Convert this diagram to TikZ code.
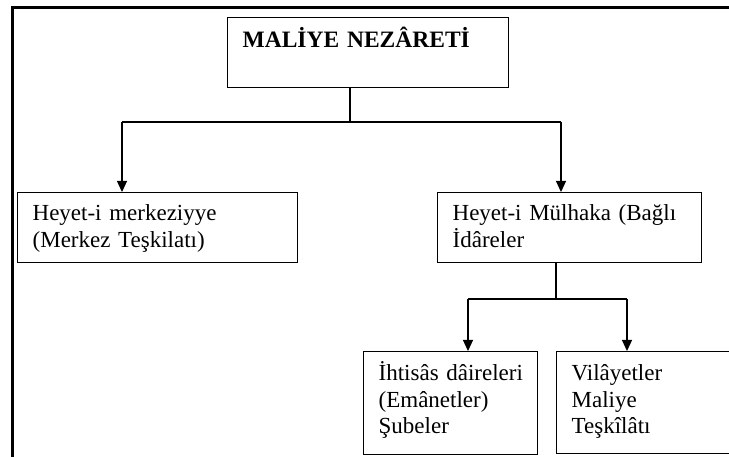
\documentclass[tikz,border=0pt]{standalone}
\usepackage{fontspec}
\setmainfont{Liberation Serif}
\usetikzlibrary{arrows.meta}

\begin{document}
\begin{tikzpicture}[x = 1pt, y = -1pt, line width = 1.1pt,
                      unit/.style = {draw, line width = 1.3pt, anchor = north west, align = left,
                                     inner xsep = 15pt, inner ysep = 0pt,
                                     font = \fontsize{23}{26.5}\selectfont},
                      link/.style = {-{Triangle[length = 11pt, width = 10pt]}}]
    \useasboundingbox (0, 0) rectangle (729, 457);
    \clip (0, 0) rectangle (729, 457);
    \draw [line width = 3pt] (12, 8) rectangle (800, 520);

    \node [unit, text width = 251pt, text height = 30pt, text depth = 40pt,
           font = \bfseries\fontsize{23.5}{26.5}\selectfont] (nezaret) at (227, 17) {MALİYE NEZÂRETİ};
    \node [unit, text width = 250pt, text height = 28pt, text depth = 42pt] (merkez) at (17, 192)
          {Heyet-i~merkeziyye\\(Merkez~Teşkilatı)};
    \node [unit, text width = 234pt, text height = 28pt, text depth = 42pt] (mulhaka) at (437, 192)
          {Heyet-i~Mülhaka~(Bağlı\\İdâreler};
    \node [unit, text width = 144pt, text height = 29pt, text depth = 74pt] (ihtisas) at (363, 351)
          {İhtisâs~dâireleri\\(Emânetler)\\Şubeler};
    \node [unit, text width = 170pt, text height = 29pt, text depth = 73pt] (vilayet) at (556, 351)
          {Vilâyetler\\Maliye\\Teşkîlâtı};

    \coordinate (fork) at (350, 122);
    \coordinate (forkl) at (122, 122);
    \coordinate (forkr) at (561, 122);
    \draw (nezaret.south -| fork) -- (fork);
    \draw (forkl) -- (forkr);
    \draw [link] (forkl) -- (forkl |- merkez.north);
    \draw [link] (forkr) -- (forkr |- mulhaka.north);

    \coordinate (subfork) at (556, 299);
    \coordinate (subforkl) at (468, 299);
    \coordinate (subforkr) at (627, 299);
    \draw (mulhaka.south -| subfork) -- (subfork);
    \draw (subforkl) -- (subforkr);
    \draw [link] (subforkl) -- (subforkl |- ihtisas.north);
    \draw [link] (subforkr) -- (subforkr |- vilayet.north);
\end{tikzpicture}
\end{document}
